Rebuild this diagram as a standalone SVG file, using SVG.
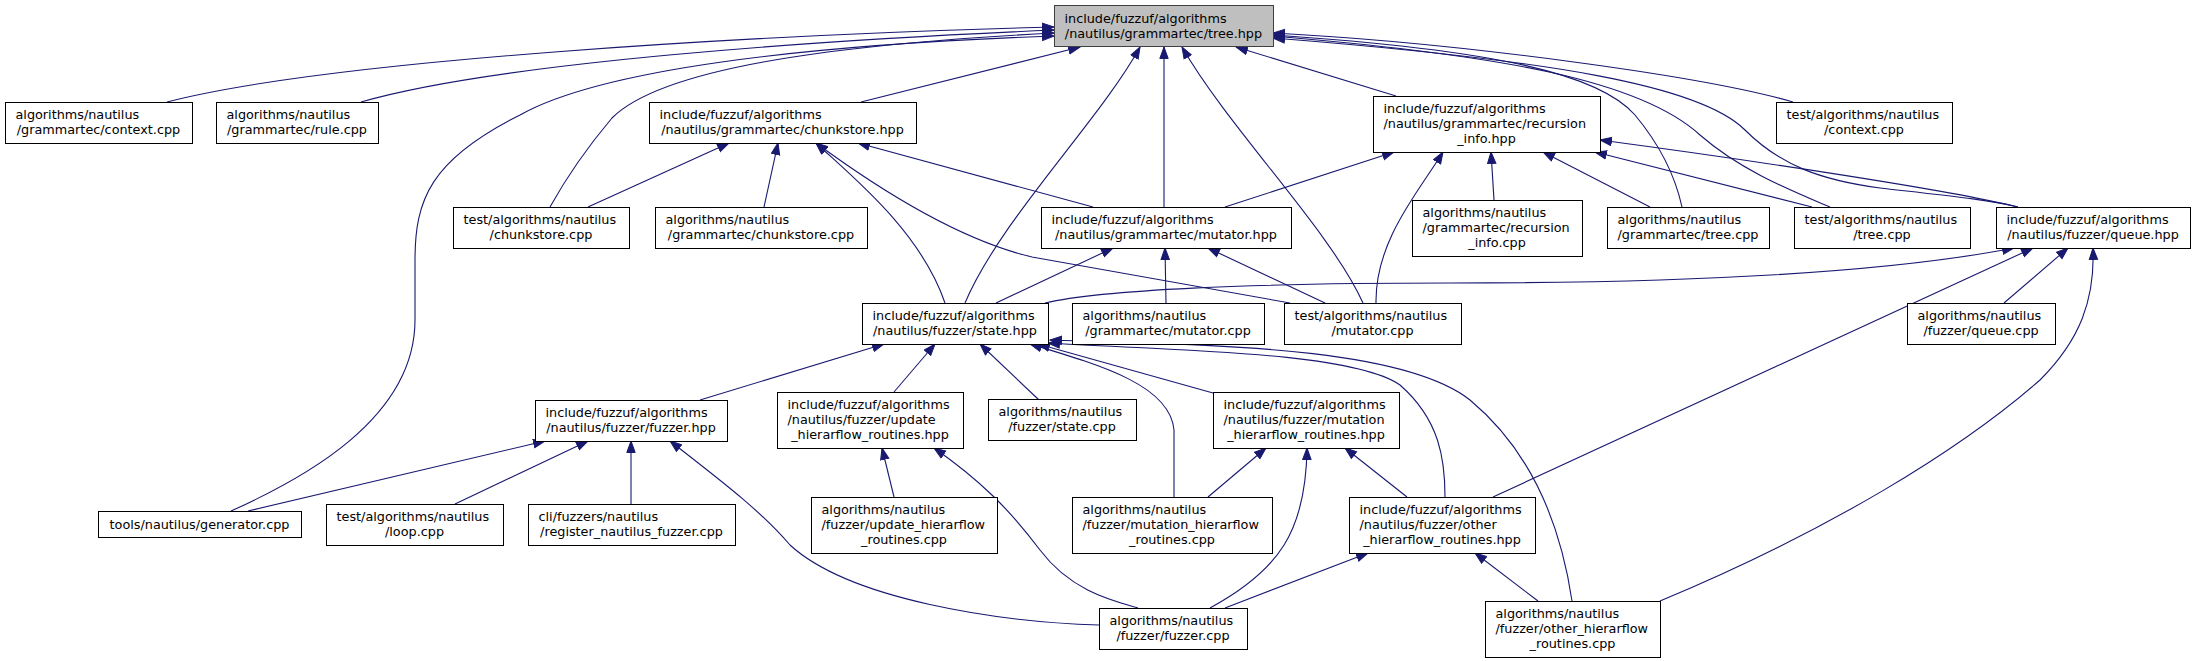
<svg xmlns="http://www.w3.org/2000/svg" width="2196" height="661" viewBox="0 0 2196 661">
<style>
.n rect{fill:#fff;stroke:#000;stroke-width:1}
.root rect{fill:#bfbfbf;stroke:#404040}
text{font-family:"DejaVu Sans","Liberation Sans",sans-serif;font-size:12.8px;fill:#000}
.m{text-anchor:middle}
#edges path{fill:none;stroke:#191970;stroke-width:1.1;marker-start:url(#ah)}
</style>
<defs>
<marker id="ah" markerWidth="14" markerHeight="11" refX="12" refY="5" orient="auto-start-reverse" markerUnits="userSpaceOnUse"><path d="M0.5,0.8 L12,5 L0.5,9.2 z" fill="#191970" stroke="#191970" stroke-width="1"/></marker>
</defs>
<rect width="2196" height="661" fill="#fff"/>
<g id="edges">
<path d="M1054,27 C750,35 330,60 167,102"/>
<path d="M1054,30 C820,40 500,62 361,102"/>
<path d="M1054,33 C820,45 660,70 612,118 C585,150 565,180 550,207"/>
<path d="M1054,36 C800,45 600,70 520,115 C430,160 415,200 415,260 L415,320 C415,420 300,480 231,511"/>
<path d="M1080,47 L861,102"/>
<path d="M1140,47 C1100,120 1000,220 965,303"/>
<path d="M1164,47 L1164,207"/>
<path d="M1182,47 C1230,130 1330,230 1363,303"/>
<path d="M1236,47 L1396,96"/>
<path d="M1273,33 C1450,42 1700,75 1793,102"/>
<path d="M1273,35 C1500,50 1600,75 1635,115 C1660,145 1675,175 1682,207"/>
<path d="M1273,36 C1500,55 1640,80 1700,135 C1740,170 1790,190 1830,207"/>
<path d="M1273,38 C1550,60 1700,85 1745,130 C1780,165 1820,180 1880,188 C1950,196 1990,200 2018,207"/>
<path d="M1394,152 L1225,207"/>
<path d="M1443,152 C1420,190 1375,240 1376,303"/>
<path d="M1491,152 L1494,200"/>
<path d="M1543,152 L1650,207"/>
<path d="M1595,152 L1812,207"/>
<path d="M1600,140 C1750,160 1950,190 2018,207"/>
<path d="M729,143 L588,207"/>
<path d="M778,143 L764,207"/>
<path d="M816,143 C850,175 920,230 945,303"/>
<path d="M816,143 C880,190 960,240 1032,257 L1290,303"/>
<path d="M858,143 L1093,207"/>
<path d="M1113,248 L996,303"/>
<path d="M1165,248 L1166,303"/>
<path d="M1208,248 L1325,303"/>
<path d="M2014,248 C1850,280 1600,283 1450,283 C1250,283 1100,290 1045,303"/>
<path d="M2033,248 L1493,497"/>
<path d="M2068,248 L2004,303"/>
<path d="M2093,248 C2095,300 2080,340 2040,380 C1960,450 1830,530 1660,601"/>
<path d="M884,344 L700,400"/>
<path d="M935,344 L894,392"/>
<path d="M980,344 L1039,400"/>
<path d="M1030,344 C1100,365 1170,385 1174,430 L1174,497"/>
<path d="M1038,344 L1213,393"/>
<path d="M1048,343 C1150,350 1350,350 1400,385 C1440,420 1445,460 1445,497"/>
<path d="M1050,340 C1200,345 1400,345 1470,400 C1530,450 1560,520 1572,601"/>
<path d="M545,441 L248,511"/>
<path d="M588,441 L455,504"/>
<path d="M631,441 L631,504"/>
<path d="M670,441 C720,480 760,510 790,545 C850,600 1000,622 1099,625"/>
<path d="M882,448 L894,497"/>
<path d="M934,448 C980,480 1010,510 1040,550 C1070,590 1110,600 1138,608"/>
<path d="M1266,448 L1208,497"/>
<path d="M1307,448 C1306,530 1280,570 1210,608"/>
<path d="M1345,448 L1407,497"/>
<path d="M1368,553 L1225,608"/>
<path d="M1475,553 L1538,601"/>
</g>
<g id="n1" class="n root"><rect x="1054.5" y="5.5" width="219" height="41"/><text x="1064.5" y="22.5">include/fuzzuf/algorithms</text><text x="1163.5" y="37.5" class="m">/nautilus/grammartec/tree.hpp</text></g>
<g id="n2" class="n"><rect x="5.5" y="102.5" width="187" height="41"/><text x="15.5" y="119">algorithms/nautilus</text><text x="98.5" y="134" class="m">/grammartec/context.cpp</text></g>
<g id="n3" class="n"><rect x="216.5" y="102.5" width="162" height="41"/><text x="226.5" y="119">algorithms/nautilus</text><text x="297" y="134" class="m">/grammartec/rule.cpp</text></g>
<g id="n4" class="n"><rect x="649.5" y="102.5" width="267" height="41"/><text x="659.5" y="119">include/fuzzuf/algorithms</text><text x="782.5" y="134" class="m">/nautilus/grammartec/chunkstore.hpp</text></g>
<g id="n5" class="n"><rect x="1373.5" y="96.5" width="227" height="56"/><text x="1383.5" y="113">include/fuzzuf/algorithms</text><text x="1383.5" y="128">/nautilus/grammartec/recursion</text><text x="1486.5" y="143" class="m">_info.hpp</text></g>
<g id="n6" class="n"><rect x="1776.5" y="102.5" width="176" height="41"/><text x="1786.5" y="119">test/algorithms/nautilus</text><text x="1864" y="134" class="m">/context.cpp</text></g>
<g id="n7" class="n"><rect x="453.5" y="207.5" width="176" height="41"/><text x="463.5" y="224">test/algorithms/nautilus</text><text x="541" y="239" class="m">/chunkstore.cpp</text></g>
<g id="n8" class="n"><rect x="655.5" y="207.5" width="212" height="41"/><text x="665.5" y="224">algorithms/nautilus</text><text x="761" y="239" class="m">/grammartec/chunkstore.cpp</text></g>
<g id="n9" class="n"><rect x="1041.5" y="207.5" width="250" height="41"/><text x="1051.5" y="224">include/fuzzuf/algorithms</text><text x="1166" y="239" class="m">/nautilus/grammartec/mutator.hpp</text></g>
<g id="n10" class="n"><rect x="1412.5" y="200.5" width="170" height="56"/><text x="1422.5" y="217">algorithms/nautilus</text><text x="1422.5" y="232">/grammartec/recursion</text><text x="1497" y="247" class="m">_info.cpp</text></g>
<g id="n11" class="n"><rect x="1607.5" y="207.5" width="162" height="41"/><text x="1617.5" y="224">algorithms/nautilus</text><text x="1688" y="239" class="m">/grammartec/tree.cpp</text></g>
<g id="n12" class="n"><rect x="1794.5" y="207.5" width="176" height="41"/><text x="1804.5" y="224">test/algorithms/nautilus</text><text x="1882" y="239" class="m">/tree.cpp</text></g>
<g id="n13" class="n"><rect x="1996.5" y="207.5" width="194" height="41"/><text x="2006.5" y="224">include/fuzzuf/algorithms</text><text x="2093" y="239" class="m">/nautilus/fuzzer/queue.hpp</text></g>
<g id="n14" class="n"><rect x="862.5" y="303.5" width="186" height="41"/><text x="872.5" y="320">include/fuzzuf/algorithms</text><text x="955" y="335" class="m">/nautilus/fuzzer/state.hpp</text></g>
<g id="n15" class="n"><rect x="1072.5" y="303.5" width="192" height="41"/><text x="1082.5" y="320">algorithms/nautilus</text><text x="1168" y="335" class="m">/grammartec/mutator.cpp</text></g>
<g id="n16" class="n"><rect x="1284.5" y="303.5" width="177" height="41"/><text x="1294.5" y="320">test/algorithms/nautilus</text><text x="1372.5" y="335" class="m">/mutator.cpp</text></g>
<g id="n17" class="n"><rect x="1907.5" y="303.5" width="148" height="41"/><text x="1917.5" y="320">algorithms/nautilus</text><text x="1981" y="335" class="m">/fuzzer/queue.cpp</text></g>
<g id="n18" class="n"><rect x="535.5" y="400.5" width="192" height="41"/><text x="545.5" y="417">include/fuzzuf/algorithms</text><text x="631" y="432" class="m">/nautilus/fuzzer/fuzzer.hpp</text></g>
<g id="n19" class="n"><rect x="777.5" y="392.5" width="186" height="56"/><text x="787.5" y="409">include/fuzzuf/algorithms</text><text x="787.5" y="424">/nautilus/fuzzer/update</text><text x="870" y="439" class="m">_hierarflow_routines.hpp</text></g>
<g id="n20" class="n"><rect x="988.5" y="399.5" width="148" height="41"/><text x="998.5" y="416">algorithms/nautilus</text><text x="1062" y="431" class="m">/fuzzer/state.cpp</text></g>
<g id="n21" class="n"><rect x="1213.5" y="392.5" width="186" height="56"/><text x="1223.5" y="409">include/fuzzuf/algorithms</text><text x="1223.5" y="424">/nautilus/fuzzer/mutation</text><text x="1306" y="439" class="m">_hierarflow_routines.hpp</text></g>
<g id="n22" class="n"><rect x="98.5" y="511.5" width="203" height="26"/><text x="199.5" y="528.5" class="m">tools/nautilus/generator.cpp</text></g>
<g id="n23" class="n"><rect x="326.5" y="504.5" width="177" height="41"/><text x="336.5" y="521">test/algorithms/nautilus</text><text x="414.5" y="536" class="m">/loop.cpp</text></g>
<g id="n24" class="n"><rect x="528.5" y="504.5" width="207" height="41"/><text x="538.5" y="521">cli/fuzzers/nautilus</text><text x="631.5" y="536" class="m">/register_nautilus_fuzzer.cpp</text></g>
<g id="n25" class="n"><rect x="811.5" y="497.5" width="186" height="56"/><text x="821.5" y="514">algorithms/nautilus</text><text x="821.5" y="529">/fuzzer/update_hierarflow</text><text x="904" y="544" class="m">_routines.cpp</text></g>
<g id="n26" class="n"><rect x="1072.5" y="497.5" width="200" height="56"/><text x="1082.5" y="514">algorithms/nautilus</text><text x="1082.5" y="529">/fuzzer/mutation_hierarflow</text><text x="1172" y="544" class="m">_routines.cpp</text></g>
<g id="n27" class="n"><rect x="1349.5" y="497.5" width="186" height="56"/><text x="1359.5" y="514">include/fuzzuf/algorithms</text><text x="1359.5" y="529">/nautilus/fuzzer/other</text><text x="1442" y="544" class="m">_hierarflow_routines.hpp</text></g>
<g id="n28" class="n"><rect x="1099.5" y="608.5" width="148" height="41"/><text x="1109.5" y="625">algorithms/nautilus</text><text x="1173" y="640" class="m">/fuzzer/fuzzer.cpp</text></g>
<g id="n29" class="n"><rect x="1485.5" y="601.5" width="175" height="56"/><text x="1495.5" y="618">algorithms/nautilus</text><text x="1495.5" y="633">/fuzzer/other_hierarflow</text><text x="1572.5" y="648" class="m">_routines.cpp</text></g>
</svg>
